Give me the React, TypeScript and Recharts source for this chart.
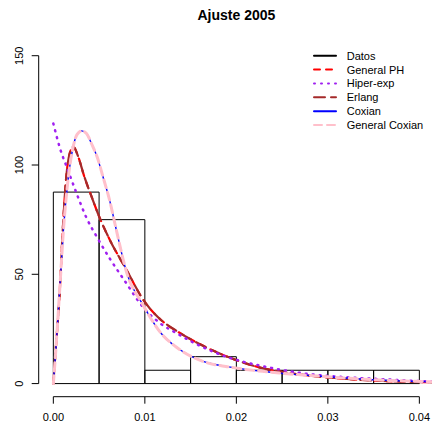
import React from 'react';
import { ComposedChart, Line, XAxis, YAxis, ReferenceArea, ReferenceLine } from 'recharts';

const titleText = 'Ajuste 2005';

// histogram (density scale)
const histBreaks = [0, 0.005, 0.01, 0.015, 0.02, 0.025, 0.03, 0.035, 0.04];
const histDensity = [87.6, 75.0, 6.1, 12.3, 6.1, 6.1, 6.1, 6.1];

// General PH
const phX = [0, 0.0003, 0.0007, 0.001, 0.0014, 0.0018, 0.0022, 0.0027, 0.0034, 0.0042, 0.005, 0.0062, 0.008, 0.0098, 0.0118, 0.0135, 0.015, 0.0175, 0.0197, 0.0226, 0.0255, 0.03, 0.035, 0.04, 0.043];
const phY = [0, 18, 42, 68, 94, 105.5, 108.3, 104, 94.5, 85.3, 76.5, 65.5, 52, 38.5, 29, 24, 20.3, 15, 11.2, 7.3, 5, 2.8, 1.4, 0.7, 0.5];

// Erlang
const erX = [0, 0.0003, 0.0007, 0.001, 0.0014, 0.0018, 0.0022, 0.0027, 0.0034, 0.0042, 0.005, 0.0062, 0.008, 0.0098, 0.0118, 0.0135, 0.015, 0.0175, 0.0197, 0.0226, 0.0255, 0.03, 0.035, 0.04, 0.043];
const erY = [0, 18, 42, 68, 94, 105.5, 108.3, 104, 94.5, 85.3, 76.5, 65.5, 52, 38.5, 29, 24, 20.3, 15, 11.2, 7.3, 5, 2.8, 1.4, 0.7, 0.5];

// Hiper-exp
const hxX = [0, 0.0007, 0.0016, 0.0027, 0.0036, 0.0047, 0.0062, 0.0078, 0.0098, 0.0117, 0.0135, 0.0153, 0.0175, 0.0204, 0.0222, 0.0248, 0.0273, 0.0324, 0.036, 0.041, 0.043];
const hxY = [119, 108, 97.6, 85.3, 76, 67.5, 57, 47, 35, 27.5, 23, 18.8, 14.5, 10.4, 8.6, 6.4, 4.7, 2.8, 2.0, 1.0, 0.8];

// Coxian
const cxX = [0, 0.0002, 0.0005, 0.0008, 0.0011, 0.0016, 0.0021, 0.0026, 0.0031, 0.0036, 0.0042, 0.0048, 0.0054, 0.0062, 0.0069, 0.008, 0.0098, 0.0117, 0.0135, 0.016, 0.0197, 0.0233, 0.027, 0.0284, 0.0339, 0.0408, 0.043];
const cxY = [0, 11, 30, 50, 70, 93, 107, 114, 115.6, 114.5, 109.5, 103.5, 95, 83, 70, 51, 36, 23.4, 16.5, 10.7, 7.3, 5.4, 4, 3.6, 2, 0.9, 0.7];

// General Coxian
const gcX = [0, 0.0002, 0.0005, 0.0008, 0.0011, 0.0016, 0.0021, 0.0026, 0.0031, 0.0036, 0.0042, 0.0048, 0.0054, 0.0062, 0.0069, 0.008, 0.0098, 0.0117, 0.0135, 0.016, 0.0197, 0.0233, 0.027, 0.0284, 0.0339, 0.0408, 0.043];
const gcY = [0, 11, 30, 50, 70, 93, 107, 114, 115.6, 114.5, 109.5, 103.5, 95, 83, 70, 51, 36, 23.4, 16.5, 10.7, 7.3, 5.4, 4, 3.6, 2, 0.9, 0.7];

const xTicks = [0, 0.01, 0.02, 0.03, 0.04];
const yTicks = [0, 50, 100, 150];
const xDomain: [number, number] = [-0.0016, 0.0416];
const yDomain: [number, number] = [-6, 156];

const legendNames = ['Datos', 'General PH', 'Hiper-exp', 'Erlang', 'Coxian', 'General Coxian'];
const legendColors = ['#000000', '#FF0000', '#A020F0', '#A52A2A', '#0000FF', '#FFC0CB'];
const legendDash = ['', '6 6', '1 6', '11 6', '', '8 5'];

const FONT = '"Liberation Sans", Arial, Helvetica, sans-serif';

const toPts = (xs: number[], ys: number[]) => xs.map((x, i) => ({ x, y: ys[i] }));

const XTick = (props: any) => {
  const { x, y, payload } = props;
  return (
    <text x={x} y={y + 17.5} textAnchor="middle" fontSize={11} fontFamily={FONT} fill="#000">
      {Number(payload.value).toFixed(2)}
    </text>
  );
};

const YTick = (props: any) => {
  const { x, y, payload } = props;
  const bx = x - 8.4;
  return (
    <text x={bx} y={y} textAnchor="middle" fontSize={11} fontFamily={FONT} fill="#000" transform={`rotate(-90, ${bx}, ${y})`}>
      {payload.value}
    </text>
  );
};

export default function App() {
  const series = [
    { name: legendNames[1], data: toPts(phX, phY), color: legendColors[1], dash: legendDash[1], w: 2.2 },
    { name: legendNames[3], data: toPts(erX, erY), color: legendColors[3], dash: legendDash[3], w: 2.2 },
    { name: legendNames[2], data: toPts(hxX, hxY), color: legendColors[2], dash: legendDash[2], w: 2.5 },
    { name: legendNames[4], data: toPts(cxX, cxY), color: legendColors[4], dash: legendDash[4], w: 1.4 },
    { name: legendNames[5], data: toPts(gcX, gcY), color: legendColors[5], dash: legendDash[5], w: 3 },
  ];
  return (
    <div style={{ position: 'absolute', left: 0, top: 0, width: 432, height: 430, overflow: 'hidden', background: '#fff' }}>
      <ComposedChart width={436} height={430} margin={{ top: 42.6, right: 2, bottom: 0, left: 0 }}>
        <XAxis
          dataKey="x"
          type="number"
          domain={xDomain}
          allowDataOverflow
          ticks={xTicks}
          interval={0}
          height={33.3}
          tickSize={7}
          tickMargin={0}
          axisLine={false}
          tickLine={{ stroke: '#000', strokeWidth: 1 }}
          tick={<XTick />}
        />
        <YAxis
          dataKey="y"
          type="number"
          domain={yDomain}
          allowDataOverflow
          ticks={yTicks}
          interval={0}
          width={38.7}
          tickSize={7}
          tickMargin={0}
          axisLine={false}
          tickLine={{ stroke: '#000', strokeWidth: 1 }}
          tick={<YTick />}
        />
        <ReferenceLine
          segment={[{ x: xTicks[0], y: yDomain[0] }, { x: xTicks[xTicks.length - 1], y: yDomain[0] }]}
          stroke="#000"
          strokeWidth={1}
          ifOverflow="visible"
        />
        <ReferenceLine
          segment={[{ x: xDomain[0], y: yTicks[0] }, { x: xDomain[0], y: yTicks[yTicks.length - 1] }]}
          stroke="#000"
          strokeWidth={1}
          ifOverflow="visible"
        />
        {histDensity.map((d, i) => (
          <ReferenceArea
            key={i}
            x1={histBreaks[i]}
            x2={histBreaks[i + 1]}
            y1={0}
            y2={d}
            fill="none"
            fillOpacity={0}
            stroke="#000"
            strokeWidth={1}
            ifOverflow="visible"
          />
        ))}
        {series.map((s) => (
          <Line
            key={s.name}
            data={s.data}
            dataKey="y"
            name={s.name}
            type="monotone"
            stroke={s.color}
            strokeWidth={s.w}
            strokeDasharray={s.dash || undefined}
            strokeLinecap="round"
            dot={false}
            activeDot={false}
            isAnimationActive={false}
          />
        ))}
      </ComposedChart>
      <svg width={432} height={430} style={{ position: 'absolute', left: 0, top: 0, pointerEvents: 'none' }}>
        <text x={236.4} y={19.5} textAnchor="middle" fontSize={14} fontWeight="bold" fontFamily={FONT} fill="#000">
          {titleText}
        </text>
        {legendNames.map((n, i) => {
          const cy = 55.7 + i * 13.88;
          return (
            <g key={n}>
              <line x1={314} x2={336} y1={cy} y2={cy} stroke={legendColors[i]} strokeWidth={2} strokeDasharray={legendDash[i] || undefined} strokeLinecap="round" />
              <text x={346.7} y={cy + 4} fontSize={11} fontFamily={FONT} fill="#000">{n}</text>
            </g>
          );
        })}
      </svg>
    </div>
  );
}
